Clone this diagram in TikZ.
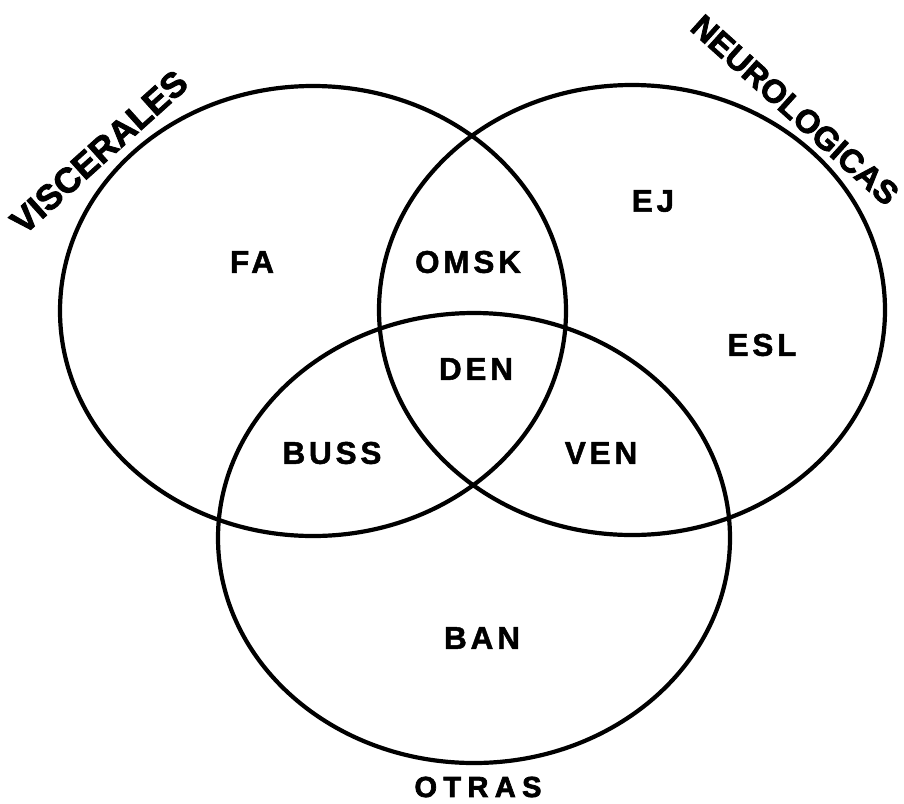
\documentclass[tikz,border=0pt]{standalone}
\usepackage{fontspec}
\setmainfont{Liberation Sans}
\newfontfamily\labfont[LetterSpace=12, FakeBold=1.5]{Liberation Sans}
\newfontfamily\otrfont[LetterSpace=22, FakeBold=2.5]{Liberation Sans}
\newfontfamily\ttlfont[FakeBold=2.5]{Liberation Sans}
\usetikzlibrary{shapes.geometric}
\begin{document}
\begin{tikzpicture}[x=1pt,y=-1pt,
  setring/.style={draw, ellipse, line width=4.2pt, inner sep=0pt,
    minimum width=506pt, minimum height=450pt},
  inlab/.style={font=\labfont\bfseries\fontsize{31.5}{34}\selectfont, inner sep=0pt},
  ttl/.style={font=\ttlfont\bfseries\fontsize{35}{40}\selectfont, inner sep=0pt},
  otr/.style={font=\otrfont\bfseries\fontsize{29}{32}\selectfont, inner sep=0pt}]
\useasboundingbox[fill=white] (0,0) rectangle (904,803);
% the three sets
\node[setring] (vis) at (313,311) {};
\node[setring] (neu) at (632,310) {};
\node[setring, minimum width=512pt] (otr) at (474,538) {};
% region labels
\node[inlab] (fa)   at (252,262) {FA};
\node[inlab] (omsk) at (468,262) {OMSK};
\node[inlab] (ej)   at (653,201) {EJ};
\node[inlab] (esl)  at (762,345) {ESL};
\node[inlab] (den)  at (476,369) {DEN};
\node[inlab] (buss) at (332,453) {BUSS};
\node[inlab] (ven)  at (601,453) {VEN};
\node[inlab] (ban)  at (482,638) {BAN};
% set titles
\node[ttl, rotate=42] (tvis) at (99,152) {VISCERALES};
\node[ttl, rotate=-42, font=\ttlfont\bfseries\fontsize{32.5}{38}\selectfont] (tneu) at (795,110) {NEUROLOGICAS};
\node[otr] (totr) at (478,787) {OTRAS};
\end{tikzpicture}
\end{document}
